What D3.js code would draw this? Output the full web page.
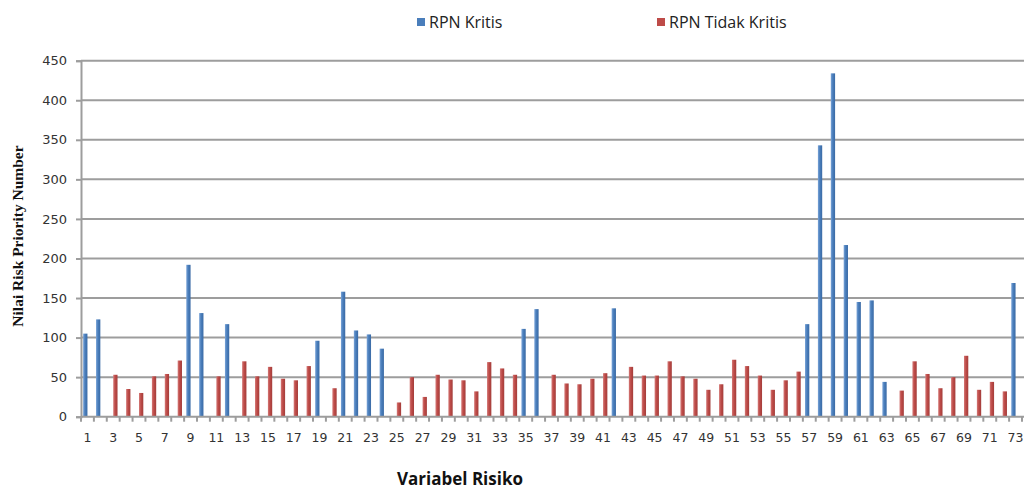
<!DOCTYPE html>
<html>
<head>
<meta charset="utf-8">
<script src="https://cdn.jsdelivr.net/npm/d3@7"></script>
<style>
  html, body { margin: 0; padding: 0; background: #fff; }
  svg { display: block; }
</style>
</head>
<body>
<svg id="chart" width="1024" height="489"></svg>
<script>
// ---- data ----
const categories = ["1","2","3","4","5","6","7","8","9","10","11","12","13","14","15","16","17","18","19","20",
  "21","22","23","24","25","26","27","28","29","30","31","32","33","34","35","36","37","38","39","40",
  "41","42","43","44","45","46","47","48","49","50","51","52","53","54","55","56","57","58","59","60",
  "61","62","63","64","65","66","67","68","69","70","71","72","73"];
const seriesNames = ["RPN Kritis", "RPN Tidak Kritis"];
const rpnKritis = [105,123,null,null,null,null,null,null,192,131,null,117,null,null,null,null,null,null,96,null,
  158,109,104,86,null,null,null,null,null,null,null,null,null,null,111,136,null,null,null,null,
  null,137,null,null,null,null,null,null,null,null,null,null,null,null,null,null,117,343,434,217,
  145,147,44,null,null,null,null,null,null,null,null,null,169];
const rpnTidakKritis = [null,null,53,35,30,51,54,71,null,null,51,null,70,51,63,48,46,64,null,36,
  null,null,null,null,18,50,25,53,47,46,32,69,61,53,null,null,53,42,41,48,
  55,null,63,52,52,70,51,48,34,41,72,64,52,34,46,57,null,null,null,null,
  null,null,null,33,70,54,36,50,77,34,44,32,null];
const yTicks = [0,50,100,150,200,250,300,350,400,450];
const xTickLabels = categories.filter((c, i) => i % 2 === 0);
const yTitle = "Nilai Risk Priority Number";
const xTitle = "Variabel Risiko";

// ---- layout ----
const svg = d3.select("#chart");
const plot = { left: 81, right: 1022, gridRight: 1024, top: 60.7, bottom: 416.7 };
const colors = { "RPN Kritis": "#4a7ebb", "RPN Tidak Kritis": "#be4b48" };

const defs = svg.append("defs");
function grad(id, c1, c2, c3) {
  const g = defs.append("linearGradient").attr("id", id).attr("x1", "0").attr("x2", "1").attr("y1", "0").attr("y2", "0");
  g.append("stop").attr("offset", "0%").attr("stop-color", c1);
  g.append("stop").attr("offset", "45%").attr("stop-color", c2);
  g.append("stop").attr("offset", "100%").attr("stop-color", c3);
}
grad("gBlue", "#7aa4d8", "#4a7ebb", "#3a6aa5");
grad("gRed", "#d47a78", "#be4b48", "#a33d3a");
const fills = { "RPN Kritis": "url(#gBlue)", "RPN Tidak Kritis": "url(#gRed)" };

const x0 = d3.scaleBand().domain(categories).range([plot.left, plot.right]).paddingInner(0).paddingOuter(0);
const x1 = d3.scaleBand().domain(seriesNames).range([0, x0.bandwidth()]).paddingInner(0).paddingOuter(0.5);
const y = d3.scaleLinear().domain([0, 450]).range([plot.bottom, plot.top]);

// gridlines
svg.append("g").selectAll("line").data(yTicks.filter(d => d > 0)).join("line")
  .attr("x1", plot.left).attr("x2", plot.gridRight)
  .attr("y1", d => y(d)).attr("y2", d => y(d))
  .attr("stroke", "#9d9d9d").attr("stroke-width", 2);

// bars
const rows = categories.map((c, i) => ({ cat: c, vals: [
  { s: seriesNames[0], v: rpnKritis[i] },
  { s: seriesNames[1], v: rpnTidakKritis[i] }
].filter(d => d.v != null) }));

svg.append("g").selectAll("g").data(rows).join("g")
  .attr("transform", d => `translate(${x0(d.cat)},0)`)
  .selectAll("rect").data(d => d.vals).join("rect")
  .attr("x", d => x1(d.s))
  .attr("width", x1.bandwidth())
  .attr("y", d => y(d.v))
  .attr("height", d => y(0) - y(d.v))
  .attr("fill", d => fills[d.s]);

// y axis
const yAxis = d3.axisLeft(y).tickValues(yTicks).tickSize(5).tickPadding(9).tickFormat(d3.format("d"));
const gy = svg.append("g").attr("transform", `translate(${plot.left},0)`).call(yAxis);
gy.select(".domain").attr("stroke", "#9d9d9d").attr("stroke-width", 2);
gy.selectAll(".tick line").attr("stroke", "#9d9d9d").attr("stroke-width", 2);
gy.selectAll("text").attr("font-family", "DejaVu Sans").attr("font-size", 13).attr("fill", "#333");

// x axis line and boundary ticks
svg.append("line").attr("x1", plot.left).attr("x2", plot.gridRight)
  .attr("y1", y(0)).attr("y2", y(0)).attr("stroke", "#9d9d9d").attr("stroke-width", 2);
const bounds = categories.map(c => x0(c)).concat([plot.right]);
svg.append("g").selectAll("line").data(bounds).join("line")
  .attr("x1", d => d).attr("x2", d => d)
  .attr("y1", y(0)).attr("y2", y(0) + 5)
  .attr("stroke", "#9d9d9d").attr("stroke-width", 2);

const xAxis = d3.axisBottom(x0).tickValues(xTickLabels).tickSize(0).tickPadding(16);
const gx = svg.append("g").attr("transform", `translate(0,${y(0)})`).call(xAxis);
gx.select(".domain").remove();
gx.selectAll("text").attr("font-family", "DejaVu Sans").attr("font-size", 12.5).attr("fill", "#333");

// titles
svg.append("text").attr("transform", `translate(23,236) rotate(-90)`)
  .attr("text-anchor", "middle").attr("font-family", "Liberation Serif").attr("font-weight", "bold")
  .attr("font-size", 15.5).attr("fill", "#111").text(yTitle);
svg.append("text").attr("x", 460).attr("y", 485)
  .attr("text-anchor", "middle").attr("font-family", "Open Sans").attr("font-weight", "bold")
  .attr("font-size", 17).attr("fill", "#111").text(xTitle);

// legend
const legendPos = [{ s: seriesNames[0], x: 417 }, { s: seriesNames[1], x: 657 }];
const lg = svg.append("g").selectAll("g").data(legendPos).join("g")
  .attr("transform", d => `translate(${d.x},18)`);
lg.append("rect").attr("width", 8).attr("height", 8).attr("fill", d => colors[d.s]);
lg.append("text").attr("x", 12).attr("y", 4).attr("dy", "0.35em")
  .attr("font-family", "Open Sans").attr("font-size", 16).attr("fill", "#222").text(d => d.s);
</script>
</body>
</html>
